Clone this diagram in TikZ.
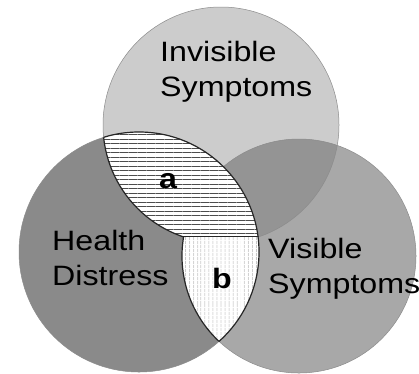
\documentclass[tikz,border=0pt]{standalone}
\usepackage{fontspec}
\setmainfont{Liberation Sans}[FakeStretch=1.15]
\usetikzlibrary{patterns.meta}

\definecolor{invgray}{gray}{0.80}
\definecolor{visgray}{gray}{0.66}
\definecolor{bothgray}{gray}{0.58}
\definecolor{heagray}{gray}{0.54}

\tikzset{
	venntext/.style={font=\fontsize{28}{35}\selectfont, align=left, inner sep=0pt, anchor=base west},
	lenstext/.style={font=\fontsize{28}{30}\selectfont\bfseries, inner sep=0pt},
	lensedge/.style={draw=black!85, line width=1.2pt},
	rim/.style={draw=black!45, line width=0.5pt},
}

\begin{document}
\begin{tikzpicture}[x=1pt,y=-1pt]
		\fill[white] (0,0) rectangle (419,373);
		\useasboundingbox (0,0) rectangle (419,373);
		\coordinate (inv) at (221,125);
		\coordinate (hea) at (139,252);
		\coordinate (vis) at (299,256);

		% the three circles
		\fill[invgray] (inv) circle (118pt);
		\fill[visgray] (vis) circle (117pt);
		\begin{scope}
			\clip (inv) circle (118pt);
			\fill[bothgray] (vis) circle (117pt);
		\end{scope}
		\fill[heagray] (hea) circle (120pt);
		\draw[rim] (inv) circle (118pt);
		\draw[rim] (vis) circle (117pt);
		\draw[rim] (hea) circle (120pt);

		% lens a
		\begin{scope}
			\clip (hea) circle (120pt);
			\fill[white] (inv) circle (118pt);
			\fill[pattern={Lines[angle=0,distance=4.5pt,line width=1pt]}, pattern color=black!70] (inv) circle (118pt);
			\draw[lensedge] (inv) circle (118pt);
		\end{scope}
		\begin{scope}
			\clip (inv) circle (118pt);
			\draw[lensedge] (hea) circle (120pt);
		\end{scope}

		% lens b, cut flat under a
		\begin{scope}
			\clip (hea) circle (120pt);
			\clip (0,236) rectangle (419,373);
			\fill[white] (vis) circle (117pt);
			\fill[pattern={Lines[angle=90,distance=4pt,line width=0.5pt]}, pattern color=gray!75] (vis) circle (117pt);
			\draw[lensedge] (vis) circle (117pt);
		\end{scope}
		\begin{scope}
			\clip (vis) circle (117pt);
			\clip (0,236) rectangle (419,373);
			\draw[lensedge] (hea) circle (120pt);
		\end{scope}
		\begin{scope}
			\clip (hea) circle (120pt);
			\clip (vis) circle (117pt);
			\draw[lensedge, line width=0.8pt] (0,236.5) -- (419,236.5);
		\end{scope}

		\node[venntext] (invlabel) at (160,96) {Invisible\\Symptoms};
		\node[venntext] (healabel) at (52,285) {Health\\Distress};
		\node[venntext] (vislabel) at (268,293) {Visible\\Symptoms};
		\node[lenstext] (alabel) at (168,181) {a};
		\node[lenstext] (blabel) at (222,278) {b};
	\end{tikzpicture}
\end{document}
